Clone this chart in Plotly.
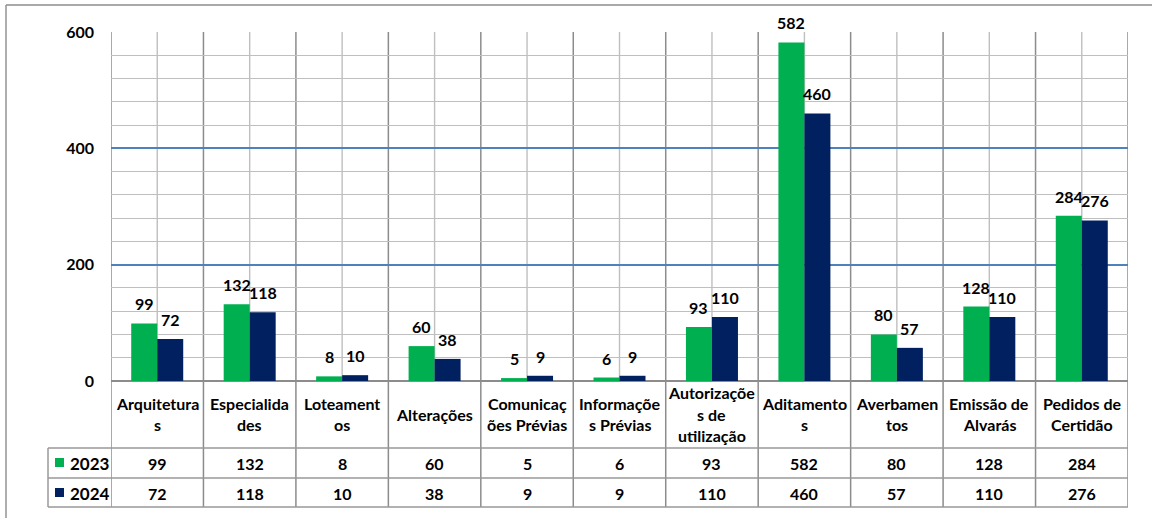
import plotly.graph_objects as go

categories = ["Arquitetura<br>s", "Especialida<br>des", "Loteament<br>os", "Alterações",
              "Comunicaç<br>ões Prévias", "Informaçõe<br>s Prévias",
              "Autorizaçõe<br>s de<br>utilização", "Aditamento<br>s", "Averbamen<br>tos",
              "Emissão de<br>Alvarás", "Pedidos de<br>Certidão"]
series_names = ["2023", "2024"]
values_2023 = [99, 132, 8, 60, 5, 6, 93, 582, 80, 128, 284]
values_2024 = [72, 118, 10, 38, 9, 9, 110, 460, 57, 110, 276]
y_ticks = [0, 200, 400, 600]

GREEN = "#00B050"
NAVY = "#002060"
FONT = "Lato"
W, H = 1152, 518
L, R, T, B = 111, 24, 32, 137
PW, PH = W - L - R, H - T - B
BARGAP = 0.4375
FS = 16

def py(p):  # pixel y -> paper y
    return (H - B - p) / PH

def px(p):  # pixel x -> paper x
    return (p - L) / PW

n = len(categories)
idx = list(range(n))

fig = go.Figure()
for name, vals, col in [(series_names[0], values_2023, GREEN), (series_names[1], values_2024, NAVY)]:
    fig.add_trace(go.Bar(x=idx, y=vals, name=name, marker=dict(color=col, line=dict(width=0)),
                         showlegend=False, hoverinfo="skip"))

shapes = []
for i in idx:
    shapes.append(dict(type="line", xref="x", yref="paper", x0=i, x1=i, y0=0, y1=1,
                       line=dict(color="#BFBFBF", width=1.4), layer="below"))
for i in range(n + 1):
    shapes.append(dict(type="line", xref="x", yref="paper", x0=i - 0.5, x1=i - 0.5,
                       y0=py(507), y1=1, line=dict(color="#8C8C8C", width=1.5), layer="below"))
for yy in [448, 478, 507]:
    shapes.append(dict(type="line", xref="paper", yref="paper", x0=px(48), x1=1,
                       y0=py(yy), y1=py(yy), line=dict(color="#999999", width=1.5)))
shapes.append(dict(type="line", xref="paper", yref="paper", x0=px(48), x1=px(48),
                   y0=py(448), y1=py(507), line=dict(color="#999999", width=1.5)))
for (y0, y1), col in [((458, 467), GREEN), ((488, 497), NAVY)]:
    shapes.append(dict(type="rect", xref="paper", yref="paper", x0=px(55), x1=px(64),
                       y0=py(y1), y1=py(y0), fillcolor=col, line=dict(width=0)))
shapes.append(dict(type="line", xref="paper", yref="paper", x0=px(6), x1=px(1160),
                   y0=py(5), y1=py(5), line=dict(color="#8C8C8C", width=1.4)))
shapes.append(dict(type="line", xref="paper", yref="paper", x0=px(6), x1=px(6),
                   y0=py(5), y1=py(530), line=dict(color="#8C8C8C", width=1.4)))

annotations = []
half = (1 - BARGAP) / 4
lab_font = dict(family=FONT, size=FS, color="black", weight="bold")
for vals, off in [(values_2023, -half), (values_2024, half)]:
    for i, v in zip(idx, vals):
        annotations.append(dict(x=i + off, y=v, xref="x", yref="y", text=str(v), showarrow=False,
                                yanchor="bottom", yshift=8, font=lab_font))
LINE_H = 21.5
for i, c in zip(idx, categories):
    lines = c.split("<br>")
    k = len(lines)
    for j, ln in enumerate(lines):
        cy = 414 + (j - (k - 1) / 2) * LINE_H
        annotations.append(dict(x=i, y=py(cy), xref="x", yref="paper", text=ln, showarrow=False,
                                yanchor="middle", font=lab_font))
for vals, cy in [(values_2023, 463), (values_2024, 493)]:
    for i, v in zip(idx, vals):
        annotations.append(dict(x=i, y=py(cy), xref="x", yref="paper", text=str(v), showarrow=False,
                                yanchor="middle", font=lab_font))
for name, cy in zip(series_names, [463, 493]):
    annotations.append(dict(x=px(68), y=py(cy), xref="paper", yref="paper", text=name,
                            showarrow=False, xanchor="left", yanchor="middle",
                            font=dict(family=FONT, size=17, color="black", weight="bold")))

fig.update_layout(
    width=W, height=H,
    margin=dict(l=L, r=R, t=T, b=B, pad=0),
    paper_bgcolor="white", plot_bgcolor="white",
    barmode="group", bargap=BARGAP, bargroupgap=0,
    shapes=shapes, annotations=annotations,
    xaxis=dict(type="linear", range=[-0.5, n - 0.5], showgrid=False, showticklabels=False,
               zeroline=False, showline=False, ticks=""),
    yaxis=dict(range=[0, 600], tickvals=y_ticks, showgrid=True, gridcolor="#4F81BD", gridwidth=1.5,
               minor=dict(dtick=40, showgrid=True, gridcolor="#BFBFBF", gridwidth=1.4),
               zeroline=True, zerolinecolor="#8C8C8C", zerolinewidth=1.5,
               showline=False, ticks="", ticklabelstandoff=16,
               tickfont=dict(family=FONT, size=FS, color="black", weight="bold")),
)
fig.write_html("out.html", config={"displayModeBar": False},
               post_script="document.body.style.margin='0';document.body.style.overflow='hidden';")
